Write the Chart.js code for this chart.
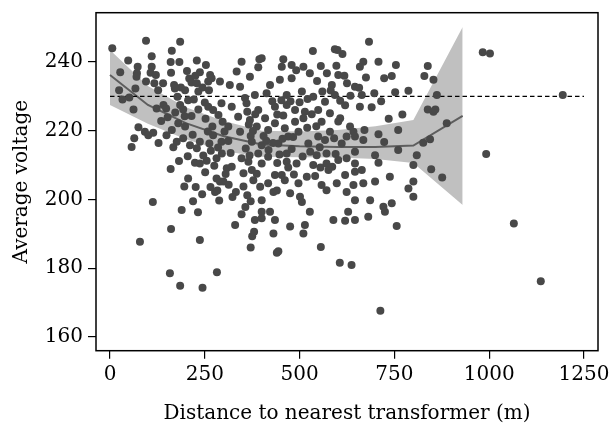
<!DOCTYPE html>
<html>
<head>
<meta charset="utf-8">
<script src="https://cdn.jsdelivr.net/npm/chart.js@4.4.1/dist/chart.umd.min.js"></script>
<style>
  html, body { margin: 0; padding: 0; background: #fff; }
  #chart { display: block; }
</style>
</head>
<body>
<canvas id="chart" width="610" height="426"></canvas>
<script>
// household readings: [distance to nearest transformer (m), average voltage]
const readings = [
  [6,244.0],[95,246.2],[185,245.9],[163,243.3],[48,240.4],[110,241.7],[160,240],[183,240],[229,240.4],[73,238.6],
  [110,238.6],[27,237],[71,236.7],[107,236.9],[121,236.2],[161,236.9],[203,237.4],[237,237],[264,236.2],[70,235.7],
  [95,234.3],[117,233.8],[209,235.2],[215,234],[169,233.3],[187,232.6],[229,233.8],[259,234.3],[268,235.3],[394,240.8],
  [24,231.8],[51,229.7],[33,229.1],[67,232.3],[127,231.8],[171,232.3],[178,229.9],[198,231.8],[233,231.4],[261,231.8],
  [62,226.2],[123,226.5],[141,227.5],[148,226.5],[185,227.5],[193,226.2],[233,226.2],[215,224.3],[259,227],[272,226],
  [683,245.9],[535,243.2],[593,243.7],[613,242.3],[600,243.5],[400,241.1],[457,240.8],
  [983,242.8],[1002,242.5],[1194,230.4],
  [992,213.2],[1065,193.0],[847,208.8],[876,206.4],
  [79,187.7],[237,188.2],[158,178.5],[185,174.9],[244,174.3],[282,178.8],[371,186],[375,189.3],[380,190.6],[440,184.5],
  [444,184.9],[556,186.2],[606,181.6],[637,180.9],[713,167.6],[1136,176.2],
  [75,221],[92,219.7],[101,218.7],[114,219.4],[64,217.8],[57,215.3],[149,218.7],[163,220.2],[180,222.2],[198,221.2],
  [176,216.8],[167,215.2],[193,217.8],[211,215.8],[237,216.8],[262,216.3],[270,221.2],[272,218.7],[224,210.7],[237,210.5],
  [255,211.3],[281,212],[295,213.4],[308,209.1],[321,209.5],[347,212],[365,211],[374,208.6],[352,207.6],[391,213.4],
  [400,210.5],[206,206.1],[281,206.1],[290,205.2],[299,205.2],[277,202.2],[283,202.6],[332,202.2],[378,205.6],[396,203.7],
  [400,199.8],[113,199.3],[189,196.9],[161,191.4],[347,195.7],[330,192.6],[382,194],[400,196.4],
  [646,213.9],[760,214.4],[809,212.9],[699,212.9],[708,210.7],[417,212.4],[466,213.4],[466,211],[492,210.5],[545,212.9],
  [536,210],[571,213.4],[571,210.5],[576,208.6],[602,211.5],[624,212],[646,210.5],[620,207.1],[646,208.1],[664,208.6],
  [800,210],[738,206.6],[800,205.2],[787,203.2],[800,200.8],[699,205.2],[668,204.7],[642,204.2],[624,202.2],[646,199.8],
  [686,199.8],[721,197.9],[743,198.9],[725,196.4],[628,196.4],[681,195],[646,194],[620,193.8],[589,194],[756,192.3],
  [387,207.5],[417,204.7],[431,202.2],[440,202.6],[422,196.4],[435,194],[400,194.5],[475,192.1],[514,192.6],[510,190.1],
  [431,190.1],[475,201.8],[501,200.8],[506,199.3],[527,196.4],[497,204.7],[519,206.6],[558,204.2],[571,202.7],[453,207.1],
  [461,205.6],[435,207.1],[598,204.7],
  [347,240.1],[391,238.5],[453,238.6],[479,239.1],[510,238.6],[556,238.8],[602,236.2],[334,237.2],[290,234.3],[316,233.3],
  [343,232.8],[369,235.7],[422,233.3],[448,234.8],[479,235.3],[491,237.6],[527,236.7],[585,233.3],[382,230.4],[413,230.9],
  [466,230.4],[506,231.4],[536,229.9],[567,228.4],[593,230.4],[294,228],[321,227],[360,228],[391,226],[435,227],
  [466,227.5],[488,226],[514,225.5],[549,226],[580,225.1],[286,224.6],[338,224.1],[369,223.1],[409,223.6],[435,222.2],
  [488,222.6],[510,223.6],[558,222.6],[607,223.6],[312,221.2],[343,219.7],[387,221.2],[417,220.2],[461,220.7],[470,218.3],
  [497,219.7],[549,218.3],[580,219.7],[294,216.8],[374,216.8],[400,215.8],[444,216.3],[523,216.3],[567,217.3],[611,216.3],
  [668,240.1],[708,240.1],[754,239.1],[659,238.6],[618,236],[743,235.9],[829,235.9],[838,238.8],[853,234.8],[646,232.8],
  [657,232.5],[664,230.4],[697,230.9],[752,231.2],[787,231.6],[862,230.4],[607,228.7],[659,227],[838,226.2],[853,225.5],
  [858,226.2],[888,222.2],[602,222.7],[633,221.2],[642,219.7],[671,220.2],[708,219],[624,218.3],[646,218.3],[668,217.3],
  [826,216.5],[844,217.5],
  // overlapping points inside the dense core
  [356,229.5],[362,225.5],[366,221.8],[371,218.5],[358,214.8],[368,212.8],[377,219.9],[383,224.8],[352,203.8],[362,201.2],
  [371,199.5],[357,197.8],[252,223.5],[258,219.8],[266,214.2],[275,209.8],[285,215.1],[302,219.8],[297,222.6],[312,217],
  [318,213.5],[305,207.4],[313,204.3],[323,200.7],[288,199.7],[265,203.6],[251,207.9],[243,201.5],[226,203.6],[219,199.5],
  [232,196.3],[428,228.6],[441,224.7],[452,228.9],[457,224.4],[476,228.6],[500,228.3],[521,229.2],[532,224.8],[544,221.3],
  [520,220.9],[483,218.2],[455,217.7],[430,216.4],[412,217.1],[418,214.4],[447,213.1],[479,214.7],[508,212.5],[528,213.9],
  [553,215.2],[591,217.8],[595,213.2],[586,209.5],[555,209.3],[541,206.8],[485,207.3],[470,209.3],[441,210.6],[405,218.5],
  [572,236.7],[597,238.9],[625,233.8],[634,230.2],[620,227.4],[582,231.7],[546,234.5],[560,231.4],[675,235.5],[690,226.8],
  [715,228.6],[723,235.3],[735,223.5],[771,224.7],[760,220.2],[723,216.7],[135,222.8],[152,223.9],[206,228.9],[221,229.1],
  [244,232.6],[250,228.2],[225,236],[253,239.1],[140,233.8],[197,224.2],[172,225.3],[128,216.4],[205,212.6],[218,218.8],
  [229,214.9],[246,212.8],[160,208.9],[182,211.2],[196,203.8]
];

// local fit and its confidence band
const fitX   = [0, 100, 200, 300, 400, 500, 600, 700, 800, 930];
const fitY   = [236.2, 227.5, 222.2, 218.4, 216.0, 215.5, 215.3, 215.3, 215.7, 224.3];
const ciLow  = [227.5, 222.0, 217.5, 214.0, 212.4, 212.3, 212.2, 211.8, 210.6, 198.4];
const ciHigh = [243.5, 233.0, 226.8, 222.8, 220.0, 219.8, 220.2, 221.3, 223.1, 250.2];

// nominal supply voltage reference
const nominalVolt = 230;
const nominalSpan = [0, 1250];

const xTicks = [0, 250, 500, 750, 1000, 1250];
const yTicks = [160, 180, 200, 220, 240];

const FONT = 'DejaVu Serif';

const framePlugin = {
  id: 'frame',
  afterDatasetsDraw(chart) {
    const { ctx, chartArea: a } = chart;
    ctx.save();
    ctx.strokeStyle = '#000';
    ctx.lineWidth = 1.5;
    ctx.strokeRect(a.left, a.top, a.right - a.left, a.bottom - a.top);
    ctx.restore();
  }
};

const xy = (xs, ys) => xs.map((x, i) => ({ x, y: ys[i] }));

new Chart(document.getElementById('chart'), {
  type: 'scatter',
  data: {
    datasets: [
      {
        type: 'line', data: xy(fitX, ciHigh), fill: '+1', backgroundColor: '#c0c0c0',
        borderColor: 'rgba(0,0,0,0)', borderWidth: 0, pointRadius: 0, tension: 0, order: 5
      },
      {
        type: 'line', data: xy(fitX, ciLow), fill: false,
        borderColor: 'rgba(0,0,0,0)', borderWidth: 0, pointRadius: 0, tension: 0, order: 5
      },
      {
        type: 'line', data: xy(fitX, fitY), fill: false,
        borderColor: '#5e5e5e', borderWidth: 2, pointRadius: 0, tension: 0, order: 3
      },
      {
        type: 'line', data: nominalSpan.map(x => ({ x, y: nominalVolt })), fill: false,
        borderColor: '#000', borderWidth: 1.2, borderDash: [4.5, 3], pointRadius: 0, order: 2
      },
      {
        type: 'scatter', data: readings.map(([x, y]) => ({ x, y })),
        pointRadius: 4, pointHoverRadius: 4, backgroundColor: '#484848', borderWidth: 0, order: 1
      }
    ]
  },
  options: {
    responsive: false,
    animation: false,
    devicePixelRatio: 1,
    layout: { padding: { top: 12.7, right: 12, bottom: 0, left: 0 } },
    plugins: { legend: { display: false }, tooltip: { enabled: false } },
    scales: {
      x: {
        type: 'linear', min: -36.9, max: 1286.9,
        afterBuildTicks: s => { s.ticks = xTicks.map(v => ({ value: v })); },
        afterFit: s => { s.height = 75.3; s.paddingLeft = 0; s.paddingRight = 0; },
        border: { display: false },
        grid: { drawOnChartArea: false, drawTicks: true, tickLength: 8, color: '#000', lineWidth: 1.2 },
        ticks: { color: '#000', font: { family: FONT, size: 20 }, padding: 4, maxRotation: 0, autoSkip: false,
                 callback: v => String(v) },
        title: { display: true, text: 'Distance to nearest transformer (m)', color: '#000',
                 font: { family: FONT, size: 20 }, padding: { top: 0, bottom: 0 } }
      },
      y: {
        type: 'linear', min: 156.0, max: 254.34,
        afterBuildTicks: s => { s.ticks = yTicks.map(v => ({ value: v })); },
        afterFit: s => { s.width = 96; s.paddingTop = 0; s.paddingBottom = 0; },
        border: { display: false },
        grid: { drawOnChartArea: false, drawTicks: true, tickLength: 8, color: '#000', lineWidth: 1.2 },
        ticks: { color: '#000', font: { family: FONT, size: 20 }, padding: 5, autoSkip: false,
                 callback: v => String(v) },
        title: { display: true, text: 'Average voltage', color: '#000',
                 font: { family: FONT, size: 20 }, padding: { top: 10, bottom: 0 } }
      }
    }
  },
  plugins: [framePlugin]
});
</script>
</body>
</html>
